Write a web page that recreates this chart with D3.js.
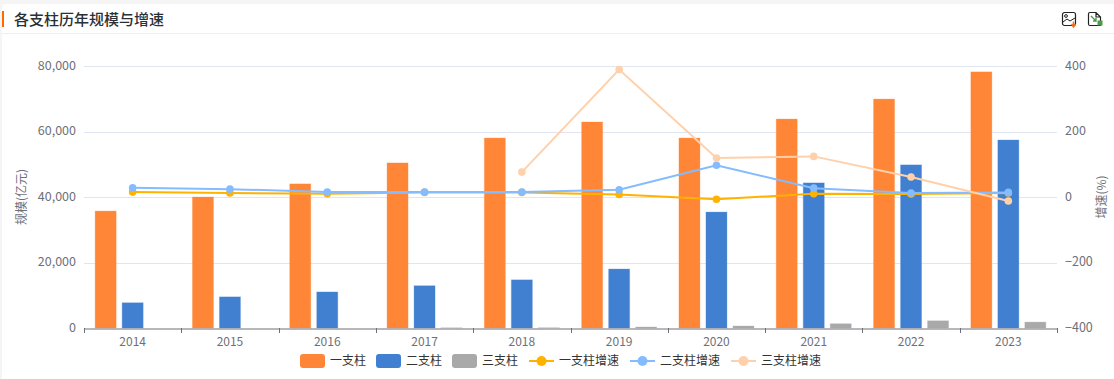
<!DOCTYPE html>
<html>
<head>
<meta charset="utf-8">
<script src="https://cdn.jsdelivr.net/npm/d3@7"></script>
<style>
  html, body { margin: 0; padding: 0; background: #f5f5f5; }
  svg { display: block; }
  text { font-family: "Noto Sans CJK SC", "Noto Sans", sans-serif; }
</style>
</head>
<body>
<svg id="chart"></svg>
<script>
//////////////// Daten ////////////////////
const years = ["2014", "2015", "2016", "2017", "2018", "2019", "2020", "2021", "2022", "2023"];
const scaleFirst = [35700, 40000, 44000, 50400, 58000, 62900, 58000, 63800, 69900, 78200];
const scaleSecond = [7700, 9500, 11000, 12900, 14700, 18000, 35400, 44300, 49800, 57400];
const scaleThird = [null, null, null, 60, 80, 300, 600, 1300, 2200, 1800];
const growthFirst = [15, 12, 10, 14, 14, 8, -7, 10, 9, 12];
const growthSecond = [28, 24, 15, 15, 15, 22, 97, 27, 12, 14];
const growthThird = [null, null, null, null, 76, 389, 119, 124, 61, -12];
const leftTicks = [0, 20000, 40000, 60000, 80000];
const rightTicks = [-400, -200, 0, 200, 400];

//////////////// Konstanten ////////////////////
const width = 1114, height = 379;
const margin = {top: 66, right: 57, bottom: 51, left: 84};
const barColors = ["#ff8636", "#4180d0", "#a9a9a9"];
const lineColors = ["#ffb300", "#85bbff", "#ffd0aa"];
const barNames = ["一支柱", "二支柱", "三支柱"];
const lineNames = ["一支柱增速", "二支柱增速", "三支柱增速"];

const svg = d3.select("#chart").attr("width", width).attr("height", height);

////////////////// Karte + Titel ////////////
svg.append("rect").attr("x", 2).attr("y", 4).attr("width", width).attr("height", height)
  .attr("rx", 4).attr("fill", "#fff");
svg.append("rect").attr("x", 2).attr("y", 11).attr("width", 2).attr("height", 16).attr("fill", "#ff6a00");
svg.append("line").attr("x1", 2).attr("x2", width).attr("y1", 33.5).attr("y2", 33.5).attr("stroke", "#eeeeee");
svg.append("text").attr("x", 14).attr("y", 25).attr("font-size", 15).attr("font-weight", 500)
  .attr("fill", "#2b2f36").text("各支柱历年规模与增速");

// icons top right
const icon1 = svg.append("g").attr("transform", "translate(1062,12)").attr("fill", "none");
icon1.append("rect").attr("x", 0.5).attr("y", 0.5).attr("width", 13).attr("height", 13).attr("rx", 2)
  .attr("stroke", "#222").attr("stroke-width", 1.2);
icon1.append("circle").attr("cx", 4).attr("cy", 4).attr("r", 1.4).attr("stroke", "#222");
icon1.append("path").attr("d", "M1 10 L5 7 L8 9 L13 6").attr("stroke", "#222");
icon1.append("path").attr("d", "M11.5 9.5 V13 M9.5 12 L11.5 15 L13.5 12").attr("stroke", "#f07020").attr("stroke-width", 1.5);
const icon2 = svg.append("g").attr("transform", "translate(1088,12)").attr("fill", "none");
icon2.append("path").attr("d", "M0.5 2 Q0.5 0.5 2 0.5 H8 L12.5 5 V13.5 H2 Q0.5 13.5 0.5 12 Z M8 0.5 V5 H12.5")
  .attr("stroke", "#222").attr("stroke-width", 1.2);
icon2.append("path").attr("d", "M3 4 L8 9 M8 6 V9 H5").attr("stroke", "#4c9a4c").attr("stroke-width", 1.4);
icon2.append("rect").attr("x", 10).attr("y", 9).attr("width", 4).attr("height", 4).attr("fill", "#4c9a4c").attr("stroke", "#4c9a4c");

////////////////// Scaling ////////////
const x = d3.scaleBand().domain(years).range([margin.left, width - margin.right]);
const yLeft = d3.scaleLinear().domain([0, 80000]).range([height - margin.bottom, margin.top]);
const yRight = d3.scaleLinear().domain([-400, 400]).range([height - margin.bottom, margin.top]);
const sub = d3.scaleBand().domain([0, 1, 2]).range([-40.5, 40.5]);

////////////////// Grid ////////////
svg.append("g").selectAll("line").data(leftTicks.slice(1)).enter().append("line")
  .attr("x1", margin.left).attr("x2", width - margin.right)
  .attr("y1", d => Math.round(yLeft(d)) + 0.5).attr("y2", d => Math.round(yLeft(d)) + 0.5)
  .attr("stroke", "#e0e6f1");

////////////////// Balken ////////////
[scaleFirst, scaleSecond, scaleThird].forEach(function (vals, s) {
  const rows = vals.map((v, i) => ({year: years[i], v: v})).filter(d => d.v !== null);
  svg.append("g").selectAll("rect").data(rows).enter().append("rect")
    .attr("x", d => x(d.year) + x.bandwidth() / 2 + sub(s) + 3)
    .attr("width", sub.bandwidth() - 6)
    .attr("y", d => yLeft(d.v))
    .attr("height", d => yLeft(0) - yLeft(d.v))
    .attr("fill", barColors[s])
    .attr("stroke", barColors[s]).attr("stroke-opacity", 0.3).attr("stroke-width", 1);
});

////////////////// Achsen ////////////
const xAxis = svg.append("g").attr("transform", "translate(0," + (yLeft(0) + 0.5) + ")")
  .call(d3.axisBottom(x).tickSize(0).tickPadding(9));
xAxis.select(".domain").attr("stroke", "#6e7079").attr("stroke-width", 1);
xAxis.selectAll("text").attr("fill", "#6e7079").attr("font-size", 12);
svg.append("g").selectAll("line").data(d3.range(years.length + 1)).enter().append("line")
  .attr("x1", d => Math.round(margin.left + d * x.bandwidth()) + 0.5)
  .attr("x2", d => Math.round(margin.left + d * x.bandwidth()) + 0.5)
  .attr("y1", yLeft(0)).attr("y2", yLeft(0) + 5).attr("stroke", "#6e7079");

const leftAxis = svg.append("g").attr("transform", "translate(" + margin.left + ",-1)")
  .call(d3.axisLeft(yLeft).tickValues(leftTicks).tickFormat(d3.format(",")).tickSize(0).tickPadding(8));
leftAxis.select(".domain").remove();
leftAxis.selectAll("text").attr("fill", "#6e7079").attr("font-size", 12.5);

const rightAxis = svg.append("g").attr("transform", "translate(" + (width - margin.right) + ",-1)")
  .call(d3.axisRight(yRight).tickValues(rightTicks).tickSize(0).tickPadding(8));
rightAxis.select(".domain").remove();
rightAxis.selectAll("text").attr("fill", "#6e7079").attr("font-size", 12.5);

svg.append("text").attr("transform", "translate(26,197) rotate(-90)").attr("text-anchor", "middle")
  .attr("font-size", 12).attr("fill", "#6e7079").text("规模(亿元)");
svg.append("text").attr("transform", "translate(1106,197) rotate(-90)").attr("text-anchor", "middle")
  .attr("font-size", 12).attr("fill", "#6e7079").text("增速(%)");

////////////////// Linien ////////////
const line = d3.line().defined(d => d.v !== null)
  .x(d => x(d.year) + x.bandwidth() / 2).y(d => yRight(d.v));
[growthFirst, growthSecond, growthThird].forEach(function (vals, s) {
  const pts = vals.map((v, i) => ({year: years[i], v: v}));
  const g = svg.append("g");
  g.append("path").attr("d", line(pts)).attr("fill", "none")
    .attr("stroke", lineColors[s]).attr("stroke-width", 2);
  g.selectAll("circle").data(pts.filter(d => d.v !== null)).enter().append("circle")
    .attr("cx", d => x(d.year) + x.bandwidth() / 2).attr("cy", d => yRight(d.v))
    .attr("r", 3.8).attr("fill", lineColors[s]);
});

////////////////// Legende ////////////
const legendY = 361;
const barLegend = svg.append("g").selectAll("g").data(barNames).enter().append("g")
  .attr("transform", (d, i) => "translate(" + (300 + i * 76) + "," + legendY + ")");
barLegend.append("rect").attr("x", 0).attr("y", -7).attr("width", 25).attr("height", 14).attr("rx", 3)
  .attr("fill", (d, i) => barColors[i]);
barLegend.append("text").attr("x", 30).attr("y", 4).attr("font-size", 12).attr("fill", "#333").text(d => d);

const lineLegend = svg.append("g").selectAll("g").data(lineNames).enter().append("g")
  .attr("transform", (d, i) => "translate(" + (529 + i * 101) + "," + legendY + ")");
lineLegend.append("line").attr("x1", 0).attr("x2", 25).attr("stroke-width", 2)
  .attr("stroke", (d, i) => lineColors[i]);
lineLegend.append("circle").attr("cx", 12.5).attr("r", 5).attr("fill", (d, i) => lineColors[i]);
lineLegend.append("text").attr("x", 30).attr("y", 4).attr("font-size", 12).attr("fill", "#333").text(d => d);
</script>
</body>
</html>
